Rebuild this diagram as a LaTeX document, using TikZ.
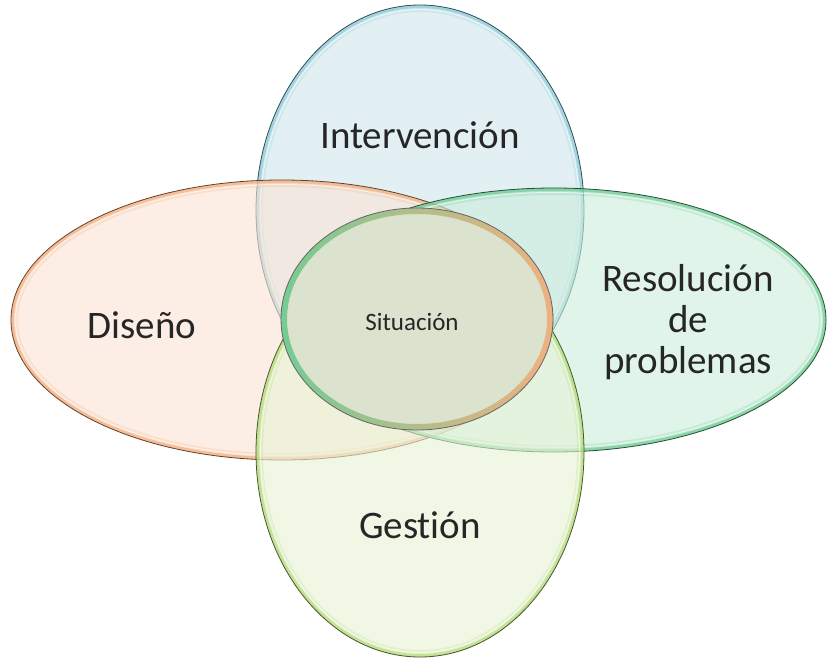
\documentclass[tikz,border=0pt]{standalone}
\usepackage{fontspec}
\setmainfont{Carlito}[Ligatures=NoCommon]
\definecolor{txt}{HTML}{262626}
\definecolor{bluef}{HTML}{D0E7EE}
\definecolor{bluer}{HTML}{7FC4D4}
\definecolor{orangef}{HTML}{FAE4D5}
\definecolor{oranger}{HTML}{F4A46E}
\definecolor{greenf}{HTML}{CCEDDC}
\definecolor{greenr}{HTML}{5CC585}
\definecolor{gestf}{HTML}{E8F3D5}
\definecolor{gestr}{HTML}{ACD86A}
\definecolor{centf}{HTML}{DBE3CF}
\newcommand\mybubble[6]{%
  \fill[#5, fill opacity=0.6] (#1,#2) ellipse [x radius=#3, y radius=#4];
  \begin{scope}
    \clip (#1,#2) ellipse [x radius=#3, y radius=#4];
    \draw[#6, line width=14pt, opacity=0.2] (#1,#2) ellipse [x radius=#3, y radius=#4];
    \draw[#6, line width=6pt, opacity=0.55] (#1,#2) ellipse [x radius=#3, y radius=#4];
    \draw[white, line width=1pt, opacity=0.6] (#1,#2) ellipse [x radius=#3-4.5, y radius=#4-4.5];
  \end{scope}
  \draw[#6!40!black, line width=0.8pt] (#1,#2) ellipse [x radius=#3, y radius=#4];
}
\begin{document}
\begin{tikzpicture}[x=1pt,y=-1pt,
  lbl/.style={font=\fontsize{39}{41}\selectfont, text=txt, align=center, inner sep=0pt},
  small/.style={font=\fontsize{25}{30}\selectfont, text=txt, inner sep=0pt}]
\useasboundingbox (0,0) rectangle (827,658);
\fill[white] (0,0) rectangle (827,658);
% Intervención (blue)
\mybubble{420}{210}{164}{205}{bluef}{bluer}
% Diseño (orange)
\mybubble{282}{320}{271}{140}{orangef}{oranger}
% Resolución (green)
\mybubble{554}{320}{272}{132}{greenf}{greenr}
% Gestión (light green)
\mybubble{420}{452}{164}{205}{gestf}{gestr}
% centre
\fill[centf] (417,319) ellipse [x radius=136, y radius=111];
\shade[left color=greenr, right color=oranger, even odd rule, opacity=0.8]
  (417,319) ellipse [x radius=136, y radius=111]
  (417,319) ellipse [x radius=130, y radius=105];
\draw[black!60, line width=0.8pt] (417,319) ellipse [x radius=136, y radius=111];
% labels
\node[lbl] (int) at (420,135) {Intervención};
\node[lbl] (dis) at (142,325) {Diseño};
\node[lbl] (ges) at (420,525) {Gestión};
\node[lbl] (res) at (688,322) {Resolución\\de\\problemas};
\node[small] (sit) at (412,322) {Situación};
\end{tikzpicture}
\end{document}
